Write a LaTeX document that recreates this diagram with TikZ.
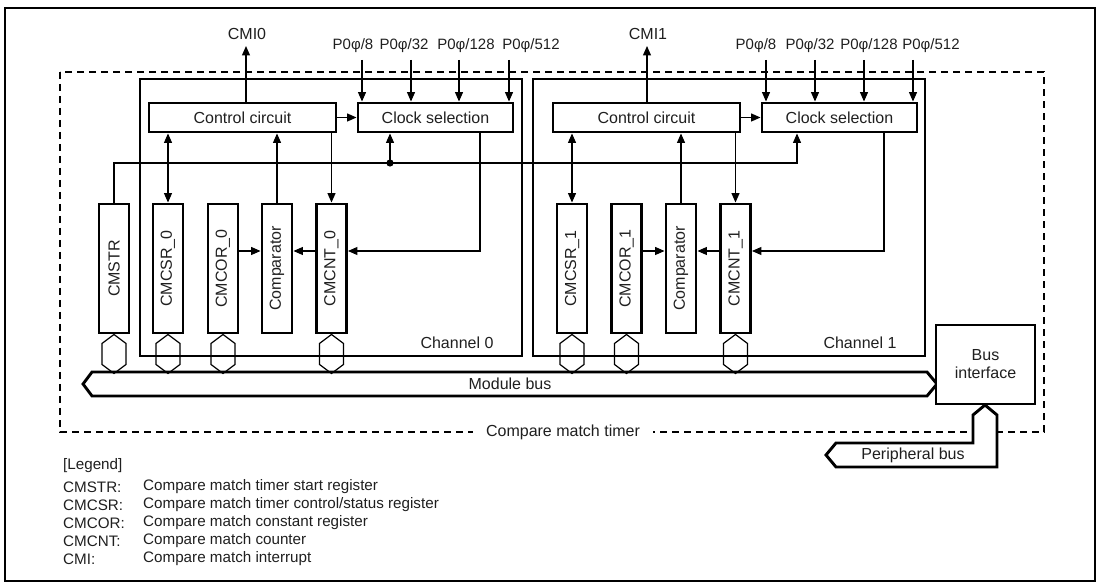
\documentclass[tikz,border=0pt]{standalone}
\usepackage{fontspec}
\setmainfont{Liberation Sans}
\usetikzlibrary{arrows.meta}
\begin{document}
\begin{tikzpicture}[x=1pt,y=-1pt,
  every node/.style={inner sep=0pt, font=\fontsize{16}{18}\selectfont, text=black!88},
  clk/.style={font=\fontsize{15}{18}\selectfont},
  thickbox/.style={draw, line width=2.9pt},
  blk/.style={thickbox, minimum height=29pt},
  reg/.style={thickbox, minimum width=30pt, minimum height=129pt},
  conn/.style={line width=1.2pt},
  arr/.style={conn, -{Triangle[length=9.5pt,width=8pt]}},
  darr/.style={conn, {Triangle[length=9.5pt,width=8pt]}-{Triangle[length=9.5pt,width=8pt]}},
  dashbox/.style={line width=1.2pt, dash pattern=on 7pt off 5pt},
  bus/.style={line width=2.9pt, fill=white, line join=miter},
  hexcon/.pic={\draw[line width=1.2pt] (0,0) -- (12,9) -- (12,30) -- (0,39) -- (-12,30) -- (-12,9) -- cycle;},
  legend/.style={font=\fontsize{15.2}{18}\selectfont, anchor=west}
]
\useasboundingbox (0,0) rectangle (1101,585);
\draw[line width=2.9pt] (5,8) rectangle (1095,581);

% compare match timer dashed box
\draw[dashbox] (60,72) rectangle (1044,432);
\node[fill=white, inner xsep=13pt, inner ysep=3pt] (cmt) at (563,432) {Compare match timer};

% channel boxes
\node[thickbox, minimum width=382pt, minimum height=277pt] (ch0) at (331,217.5) {};
\node[thickbox, minimum width=392pt, minimum height=277pt] (ch1) at (729,217.5) {};
\node (ch0lbl) at (457,343) {Channel 0};
\node (ch1lbl) at (860,343) {Channel 1};

% control / clock blocks
\node[blk, minimum width=187pt] (cc0) at (242.5,117.5) {Control circuit};
\node[blk, minimum width=155pt] (cs0) at (435.5,117.5) {Clock selection};
\node[blk, minimum width=187pt] (cc1) at (646.5,117.5) {Control circuit};
\node[blk, minimum width=155pt] (cs1) at (839.5,117.5) {Clock selection};

% registers
\node[reg] (cmstr) at (114,268.5) {\rotatebox{90}{CMSTR}};
\node[reg] (csr0) at (168,268.5) {\rotatebox{90}{CMCSR\_0}};
\node[reg] (cor0) at (223,268.5) {\rotatebox{90}{CMCOR\_0}};
\node[reg] (cmp0) at (277,268.5) {\rotatebox{90}{Comparator}};
\node[reg] (cnt0) at (331.5,268.5) {\rotatebox{90}{CMCNT\_0}};
\node[reg] (csr1) at (572,268.5) {\rotatebox{90}{CMCSR\_1}};
\node[reg] (cor1) at (626.5,268.5) {\rotatebox{90}{CMCOR\_1}};
\node[reg] (cmp1) at (681,268.5) {\rotatebox{90}{Comparator}};
\node[reg] (cnt1) at (735.5,268.5) {\rotatebox{90}{CMCNT\_1}};

% module bus
\draw[bus] (83,384) -- (92,372) -- (927,372) -- (937,384) -- (927,396) -- (92,396) -- cycle;
\node (mbus) at (510,384) {Module bus};

% hexagon connectors
\foreach \r in {cmstr,csr0,cor0,cnt0,csr1,cor1,cnt1}{
  \pic at (\r.south) {hexcon};
}

% bus interface
\node[thickbox, minimum width=99pt, minimum height=79pt, align=center, fill=white] (bif) at (985.5,364.5) {Bus\\interface};

% peripheral bus
\draw[bus] (985,405) -- (997,415) -- (997,467) -- (836,467) -- (826,455) -- (836,443) -- (973,443) -- (973,415) -- cycle;
\node (pbus) at (913,455) {Peripheral bus};

% CMI outputs
\coordinate (cmi0end) at (246,46);
\coordinate (cmi1end) at (647,46);
\node (cmi0) at (247,34) {CMI0};
\node (cmi1) at (648,34) {CMI1};
\draw[arr] (cc0.north -| cmi0end) -- (cmi0end);
\draw[arr] (cc1.north -| cmi1end) -- (cmi1end);

% clock inputs channel 0
\coordinate (pa0) at (362,60);
\coordinate (pb0) at (411,60);
\coordinate (pc0) at (459,60);
\coordinate (pd0) at (509,60);
\node[clk] (la0) at (353,46) {P0φ/8};
\node[clk] (lb0) at (404,46) {P0φ/32};
\node[clk] (lc0) at (466,46) {P0φ/128};
\node[clk] (ld0) at (531,46) {P0φ/512};
\foreach \p in {pa0,pb0,pc0,pd0}{\draw[arr] (\p) -- (\p |- cs0.north);}

% clock inputs channel 1
\coordinate (pa1) at (766,60);
\coordinate (pb1) at (815,60);
\coordinate (pc1) at (864,60);
\coordinate (pd1) at (913,60);
\node[clk] (la1) at (756,46) {P0φ/8};
\node[clk] (lb1) at (810,46) {P0φ/32};
\node[clk] (lc1) at (869,46) {P0φ/128};
\node[clk] (ld1) at (931,46) {P0φ/512};
\foreach \p in {pa1,pb1,pc1,pd1}{\draw[arr] (\p) -- (\p |- cs1.north);}

% control -> clock
\draw[arr] (cc0.east) -- (cs0.west);
\draw[arr] (cc1.east) -- (cs1.west);

% control <-> registers
\draw[darr] (cc0.south -| csr0) -- (csr0.north);
\draw[arr] (cmp0.north) -- (cmp0.north |- cc0.south);
\draw[arr] (cc0.south -| cnt0) -- (cnt0.north);
\draw[darr] (cc1.south -| csr1) -- (csr1.north);
\draw[arr] (cmp1.north) -- (cmp1.north |- cc1.south);
\draw[arr] (cc1.south -| cnt1) -- (cnt1.north);

% CMSTR start line
\coordinate (j1) at (797,163);
\coordinate (dot0) at (390,163);
\draw[arr] (cmstr.north) |- (j1) -- (j1 |- cs1.south);
\fill (dot0) circle (3.6pt);
\draw[arr] (dot0) -- (dot0 |- cs0.south);

% clock -> counter, comparator inputs
\coordinate (k0) at (480,251);
\coordinate (k1) at (884,251);
\draw[arr] (cs0.south -| k0) |- (cnt0.east |- k0);
\draw[arr] (cor0.east |- k0) -- (cmp0.west |- k0);
\draw[arr] (cnt0.west |- k0) -- (cmp0.east |- k0);
\draw[arr] (cs1.south -| k1) |- (cnt1.east |- k1);
\draw[arr] (cor1.east |- k1) -- (cmp1.west |- k1);
\draw[arr] (cnt1.west |- k1) -- (cmp1.east |- k1);

% legend
\node[legend] (lg) at (63,466) {[Legend]};
\node[legend] (a1) at (63,487) {CMSTR:};
\node[legend] (a2) at (63,505) {CMCSR:};
\node[legend] (a3) at (63,523) {CMCOR:};
\node[legend] (a4) at (63,541) {CMCNT:};
\node[legend] (a5) at (63,559) {CMI:};
\node[legend] (d1) at (143,487) {Compare match timer start register};
\node[legend] (d2) at (143,505) {Compare match timer control/status register};
\node[legend] (d3) at (143,523) {Compare match constant register};
\node[legend] (d4) at (143,541) {Compare match counter};
\node[legend] (d5) at (143,559) {Compare match interrupt};
\end{tikzpicture}
\end{document}
